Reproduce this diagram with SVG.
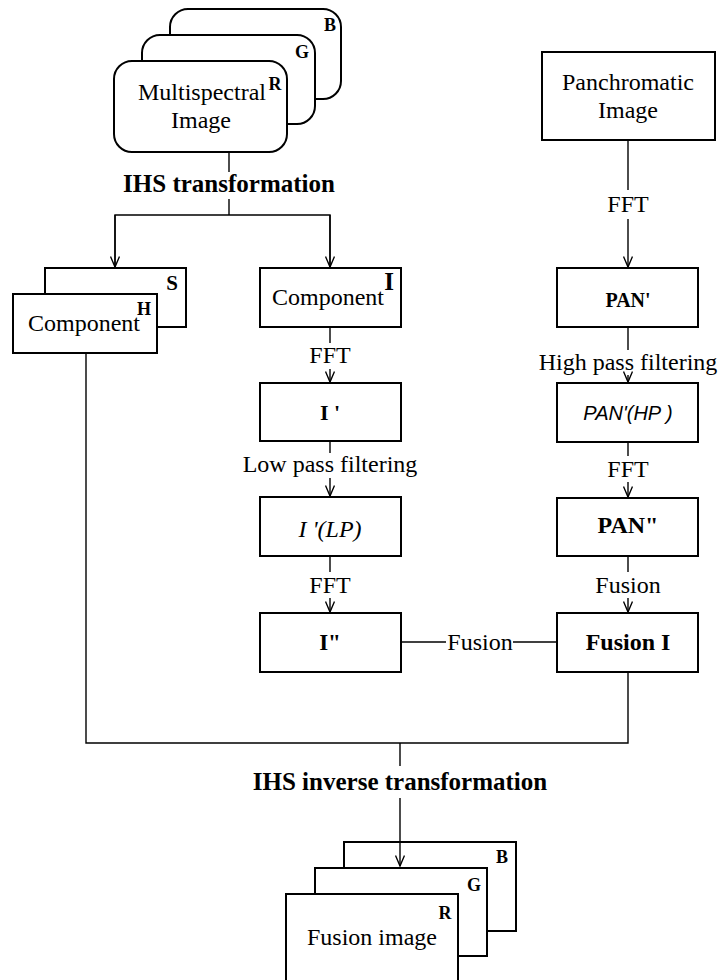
<svg xmlns="http://www.w3.org/2000/svg" width="719" height="980" viewBox="0 0 719 980">
<style>
.box{fill:#fff;stroke:#000;stroke-width:2}
.ln{fill:none;stroke:#000;stroke-width:1.4}
text{font-family:"Liberation Serif","Times New Roman",serif;font-size:24px;fill:#000;text-anchor:middle}
.b{font-weight:bold}
.sup{font-weight:bold;font-size:18px}
.it{font-style:italic}
.sans{font-family:"Liberation Sans",Arial,sans-serif;font-style:italic;font-size:20px}
</style>
<defs>
<marker id="ah" viewBox="0 0 12 10" refX="11.5" refY="5" markerWidth="12" markerHeight="10" markerUnits="userSpaceOnUse" orient="auto">
<path d="M1,0.5 L11.5,5 L1,9.5" fill="none" stroke="#000" stroke-width="1.4"/>
</marker>
</defs>
<rect width="719" height="980" fill="#fff"/>

<g id="connectors">
<line class="ln" x1="229" y1="152" x2="229" y2="172"/>
<line class="ln" x1="229" y1="199" x2="229" y2="215"/>
<polyline class="ln" points="115,268 115,215 330,215 330,268"/>
<line class="ln" x1="115" y1="215" x2="115" y2="267" marker-end="url(#ah)"/>
<line class="ln" x1="330" y1="215" x2="330" y2="267" marker-end="url(#ah)"/>
<line class="ln" x1="330" y1="327" x2="330" y2="343"/>
<line class="ln" x1="330" y1="369" x2="330" y2="382" marker-end="url(#ah)"/>
<line class="ln" x1="330" y1="441" x2="330" y2="453"/>
<line class="ln" x1="330" y1="478" x2="330" y2="496" marker-end="url(#ah)"/>
<line class="ln" x1="330" y1="556" x2="330" y2="572"/>
<line class="ln" x1="330" y1="598" x2="330" y2="612" marker-end="url(#ah)"/>
<line class="ln" x1="628" y1="140" x2="628" y2="190"/>
<line class="ln" x1="628" y1="219" x2="628" y2="267" marker-end="url(#ah)"/>
<line class="ln" x1="628" y1="327" x2="628" y2="350"/>
<line class="ln" x1="628" y1="375" x2="628" y2="382" marker-end="url(#ah)"/>
<line class="ln" x1="628" y1="442" x2="628" y2="456"/>
<line class="ln" x1="628" y1="482" x2="628" y2="497" marker-end="url(#ah)"/>
<line class="ln" x1="628" y1="556" x2="628" y2="572"/>
<line class="ln" x1="628" y1="598" x2="628" y2="612" marker-end="url(#ah)"/>
<line class="ln" x1="401" y1="642" x2="446" y2="642"/>
<line class="ln" x1="513" y1="642" x2="557" y2="642"/>
<polyline class="ln" points="86,353 86,743 628,743 628,672"/>
<line class="ln" x1="400" y1="743" x2="400" y2="766"/>
<line class="ln" x1="400" y1="798" x2="400" y2="866" marker-end="url(#ah)"/>
</g>

<g id="multispectral">
<rect class="box" x="170" y="9" width="171" height="90" rx="18"/>
<text class="sup" x="330" y="31">B</text>
<rect class="box" x="142" y="35" width="173" height="89" rx="18"/>
<text class="sup" x="302" y="58">G</text>
<rect class="box" x="114" y="61" width="173" height="91" rx="18"/>
<text class="sup" x="275" y="90">R</text>
<text x="202" y="100">Multispectral</text>
<text x="201" y="128">Image</text>
</g>
<g id="ihs-label"><text class="b" x="229" y="192" style="font-size:25px">IHS  transformation</text></g>

<g id="sh-component">
<rect class="box" x="45" y="268" width="141" height="59"/>
<text class="b" x="172" y="290" style="font-size:21px">S</text>
<rect class="box" x="13" y="294" width="144" height="59"/>
<text class="b" x="144" y="315" style="font-size:18px">H</text>
<text x="84" y="331">Component</text>
</g>

<g id="i-component">
<rect class="box" x="260" y="268" width="141" height="59"/>
<text x="328" y="305">Component</text>
<text class="b" x="389" y="290" style="font-size:25px">I</text>
</g>
<g id="fft1"><text x="330" y="363">FFT</text></g>
<g id="i-prime">
<rect class="box" x="260" y="383" width="141" height="58"/>
<text class="b" x="330" y="420" style="font-size:22px">I '</text>
</g>
<g id="lpf"><text x="330" y="472">Low pass filtering</text></g>
<g id="i-lp">
<rect class="box" x="260" y="497" width="141" height="59"/>
<text class="it" x="330" y="537">I '(LP)</text>
</g>
<g id="fft2"><text x="330" y="593">FFT</text></g>
<g id="i-dprime">
<rect class="box" x="260" y="613" width="141" height="59"/>
<text class="b" x="330" y="650" style="font-size:23px">I"</text>
</g>

<g id="panchromatic">
<rect class="box" x="542" y="52" width="173" height="88"/>
<text x="628" y="90">Panchromatic</text>
<text x="628" y="118">Image</text>
</g>
<g id="fft3"><text x="628" y="212">FFT</text></g>
<g id="pan-prime">
<rect class="box" x="557" y="268" width="141" height="59"/>
<text class="b" x="628" y="307" style="font-size:20px">PAN'</text>
</g>
<g id="hpf"><text x="628" y="370">High pass filtering</text></g>
<g id="pan-hp">
<rect class="box" x="557" y="383" width="141" height="59"/>
<text class="sans" x="628" y="420">PAN'(HP )</text>
</g>
<g id="fft4"><text x="628" y="477">FFT</text></g>
<g id="pan-dprime">
<rect class="box" x="557" y="498" width="141" height="58"/>
<text class="b" x="628" y="533">PAN"</text>
</g>
<g id="fusion-lbl1"><text x="628" y="593">Fusion</text></g>
<g id="fusion-i">
<rect class="box" x="557" y="613" width="141" height="59"/>
<text class="b" x="628" y="650">Fusion I</text>
</g>
<g id="fusion-lbl2"><text x="480" y="650">Fusion</text></g>

<g id="inverse-label"><text class="b" x="400" y="790" style="font-size:25px">IHS inverse transformation</text></g>

<g id="fusion-image">
<rect class="box" x="344" y="842" width="172" height="89" style="fill:none"/>
<text class="sup" x="502" y="863">B</text>
<rect class="box" x="315" y="868" width="172" height="88"/>
<text class="sup" x="474" y="891">G</text>
<rect class="box" x="286" y="894" width="172" height="100"/>
<text class="sup" x="445" y="919">R</text>
<text x="372" y="945">Fusion image</text>
</g>
</svg>
